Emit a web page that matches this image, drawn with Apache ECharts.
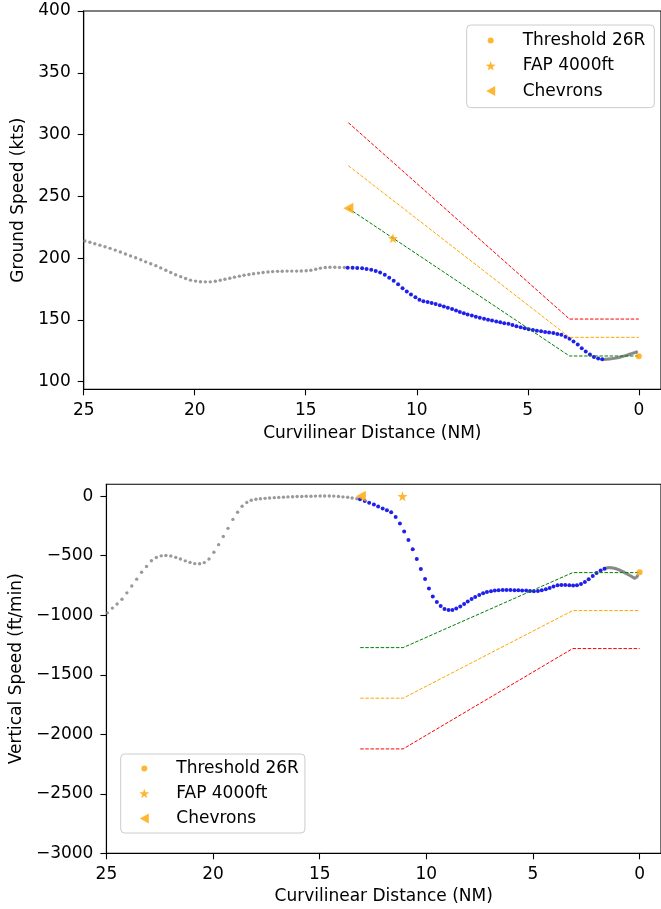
<!DOCTYPE html>
<html><head><meta charset="utf-8">
<script src="https://cdn.jsdelivr.net/npm/echarts@6/dist/echarts.min.js"></script>
<style>html,body{margin:0;padding:0;background:#fff}#c{width:661px;height:909px}</style>
</head><body><div id="c"></div>
<script>
// ---- data ----
// curvilinear distance of each recorded position (NM)
const dist = [
  24.95, 24.72, 24.50, 24.27, 24.04, 23.81, 23.58, 23.35, 23.12, 22.89,
  22.66, 22.43, 22.21, 21.98, 21.75, 21.53, 21.30, 21.08, 20.86, 20.63,
  20.41, 20.19, 19.96, 19.74, 19.52, 19.30, 19.07, 18.85, 18.64, 18.42,
  18.21, 17.99, 17.78, 17.56, 17.35, 17.13, 16.92, 16.70, 16.49, 16.27,
  16.06, 15.84, 15.63, 15.41, 15.20, 14.98, 14.77, 14.55, 14.34, 14.12,
  13.91, 13.69, 13.48, 13.26,
  13.11, 12.89, 12.68, 12.46, 12.26, 12.05, 11.85, 11.65, 11.44, 11.24,
  11.04, 10.84, 10.64, 10.45, 10.26, 10.06, 9.88, 9.70, 9.51, 9.33,
  9.15, 8.96, 8.78, 8.60, 8.41, 8.23, 8.06, 7.88, 7.71, 7.52,
  7.34, 7.16, 6.97, 6.79, 6.61, 6.42, 6.24, 6.06, 5.87, 5.69,
  5.51, 5.32, 5.14, 4.96, 4.77, 4.59, 4.40, 4.22, 4.04, 3.85,
  3.67, 3.49, 3.30, 3.12, 2.94, 2.75, 2.57, 2.39, 2.20, 2.02,
  1.83, 1.65,
  1.58, 1.50, 1.43, 1.35, 1.28, 1.20, 1.13, 1.05, 0.98, 0.90,
  0.83, 0.75, 0.68, 0.60, 0.53, 0.45, 0.38, 0.30, 0.23, 0.15, 0.10
];
// ground speed (kts)
const groundSpeed = [
  213.9, 212.8, 211.7, 210.5, 209.2, 207.9, 206.5, 205.0, 203.4, 201.8,
  200.3, 198.7, 197.0, 195.5, 193.9, 192.1, 190.2, 188.4, 186.6, 185.0,
  183.5, 182.2, 181.4, 180.9, 180.8, 180.8, 181.3, 182.1, 182.9, 183.7,
  184.6, 185.4, 186.1, 186.8, 187.4, 187.9, 188.4, 188.8, 189.1, 189.3,
  189.4, 189.5, 189.5, 189.5, 189.6, 189.8, 190.2, 191.0, 191.9, 192.4,
  192.6, 192.6, 192.5, 192.4,
  192.3, 192.2, 192.0, 191.8, 191.3, 190.5, 189.6, 188.3, 186.5, 184.2,
  181.7, 178.8, 175.6, 173.0, 170.6, 168.4, 166.3, 165.2, 164.4, 163.7,
  162.8, 161.8, 160.8, 159.8, 158.8, 157.6, 156.5, 155.4, 154.4, 153.5,
  152.6, 151.7, 150.9, 150.2, 149.5, 148.8, 148.1, 147.4, 146.8, 145.9,
  144.9, 144.0, 143.2, 142.4, 141.8, 141.3, 140.8, 140.3, 139.9, 139.4,
  138.7, 137.9, 136.4, 134.8, 132.6, 130.1, 127.0, 124.5, 122.0, 120.0,
  118.8, 118.2,
  118.1, 118.2, 118.3, 118.4, 118.5, 118.7, 118.9, 119.1, 119.3, 119.6,
  119.9, 120.3, 120.7, 121.1, 121.5, 122.0, 122.4, 122.9, 123.3, 123.7, 124.0
];
// vertical speed (ft/min)
const verticalSpeed = [
  -980, -940, -905, -866, -812, -754, -697, -639, -590, -542,
  -515, -501, -498, -502, -514, -528, -543, -556, -566, -568,
  -558, -528, -471, -407, -339, -270, -195, -135, -85, -52,
  -34, -26, -21, -18, -15, -12, -10, -8, -6, -5,
  -3, -2, -1, 0, 1, 2, 2, 2, 1, -2,
  -6, -9, -15, -22,
  -25, -40, -56, -70, -87, -104, -118, -135, -174, -230,
  -297, -367, -446, -527, -611, -695, -776, -843, -888, -922,
  -947, -955, -955, -944, -927, -905, -885, -863, -846, -829,
  -815, -804, -798, -793, -790, -787, -787, -787, -790, -790,
  -793, -793, -796, -798, -796, -790, -782, -771, -759, -748,
  -745, -745, -748, -750, -748, -738, -720, -698, -670, -645,
  -624, -610,
  -604, -601, -600, -601, -602, -605, -608, -613, -618, -624,
  -630, -637, -645, -652, -659, -667, -675, -683, -689, -680, -668
];
// index range of the highlighted (blue) approach segment
const blueStart = 54;
const blueEnd = 116;

// speed envelope (dashed lines, top chart)
const gsLimitDist = [13.08, 3.12, 0];
const gsGreen  = [240.3, 120.8, 120.8];
const gsOrange = [274.8, 135.9, 135.9];
const gsRed    = [309.6, 150.7, 150.7];
// vertical speed envelope (dashed lines, bottom chart)
const vsLimitDist = [13.1, 11.09, 3.14, 0];
const vsGreen  = [-1272, -1272, -642, -642];
const vsOrange = [-1697, -1697, -961, -961];
const vsRed    = [-2123, -2123, -1280, -1280];

// reference points [distance, value]
const thresholdGS = [[0, 120.6]];
const fapGS = [[11.07, 216]];
const chevronsGS = [[13.08, 240.3]];
const thresholdVS = [[0, -639]];
const fapVS = [[11.12, 0]];
const chevronsVS = [[13.07, 0]];

// tick labels
const xTicks = [0, 5, 10, 15, 20, 25];
const gsTicks = [100, 150, 200, 250, 300, 350, 400];
const vsTicks = [-3000, -2500, -2000, -1500, -1000, -500, 0];
const legendNames = ['Threshold 26R', 'FAP 4000ft', 'Chevrons'];

// ---- chart ----
const FONT = 'DejaVu Sans';
const pairs = (xs, ys) => xs.map((x, i) => [x, ys[i]]);
const circleIcon = 'path://M0,0M10,10M2,5A3,3,0,1,1,8,5A3,3,0,1,1,2,5Z';
const starIcon = 'path://M5,0L6.18,3.38L9.76,3.45L6.9,5.62L7.94,9.05L5,7L2.06,9.05L3.1,5.62L0.24,3.45L3.82,3.38Z';
const triIcon = 'path://M0,5L9,0L9,10Z';
const fmt = v => String(v).replace('-', '\u2212');

function xAxisCfg(gi) {
  return {
    type: 'value', gridIndex: gi, inverse: true, min: -1, max: 25,
    name: 'Curvilinear Distance (NM)', nameLocation: 'middle', nameGap: gi === 0 ? 36 : 35,
    nameTextStyle: {fontFamily: FONT, fontSize: 17, color: '#000'},
    axisLine: {show: true, onZero: false, lineStyle: {color: '#000', width: 1.1}},
    axisTick: {show: true, length: 6, customValues: xTicks, lineStyle: {color: '#000', width: 1.1}},
    axisLabel: {customValues: xTicks, margin: 13, fontFamily: FONT, fontSize: 17, color: '#000', formatter: fmt},
    splitLine: {show: false}
  };
}
function yAxisCfg(gi, min, max, ticks, name, gap) {
  return {
    type: 'value', gridIndex: gi, min, max,
    name, nameLocation: 'middle', nameGap: gap,
    nameTextStyle: {fontFamily: FONT, fontSize: 17, color: '#000'},
    axisLine: {show: true, onZero: false, lineStyle: {color: '#000', width: 1.1}},
    axisTick: {show: true, length: 6, customValues: ticks, lineStyle: {color: '#000', width: 1.1}},
    axisLabel: {customValues: ticks, margin: 13, fontFamily: FONT, fontSize: 17, color: '#000', formatter: fmt},
    splitLine: {show: false}
  };
}
function legendCfg(left, top, pad, gap) {
  return {
    orient: 'vertical', left, top, padding: pad, itemGap: gap,
    itemWidth: 10, itemHeight: 10, selectedMode: false,
    backgroundColor: 'rgba(255,255,255,0.8)', borderColor: '#cccccc', borderWidth: 1, borderRadius: 4,
    textStyle: {fontFamily: FONT, fontSize: 17, color: '#000', lineHeight: 17, padding: [0, 0, 0, 22]},
    data: [
      {name: legendNames[0], icon: circleIcon},
      {name: legendNames[1], icon: starIcon},
      {name: legendNames[2], icon: triIcon}
    ]
  };
}
function dashed(gi, xs, ys, color) {
  return {
    type: 'line', xAxisIndex: gi, yAxisIndex: gi, data: pairs(xs, ys),
    showSymbol: false, symbol: 'none', z: 4, silent: true,
    lineStyle: {color, width: 1, type: [3.5, 1.6]}
  };
}
function trajectory(gi, ys) {
  const all = pairs(dist, ys);
  return [
    {type: 'scatter', xAxisIndex: gi, yAxisIndex: gi, data: all, symbolSize: 3.4, z: 2,
     itemStyle: {color: '#808080'}, silent: true},
    {type: 'scatter', xAxisIndex: gi, yAxisIndex: gi, data: all.slice(blueStart, blueEnd), symbolSize: 4, z: 3,
     itemStyle: {color: '#0000ff'}, silent: true}
  ];
}
function markers(gi, thr, fap, chev) {
  return [
    {name: legendNames[0], type: 'scatter', xAxisIndex: gi, yAxisIndex: gi, data: thr, symbol: 'circle', symbolSize: 6, z: 6, itemStyle: {color: '#ffa500'}},
    {name: legendNames[1], type: 'scatter', xAxisIndex: gi, yAxisIndex: gi, data: fap, symbol: starIcon, symbolSize: 10, z: 6, itemStyle: {color: '#ffa500'}},
    {name: legendNames[2], type: 'scatter', xAxisIndex: gi, yAxisIndex: gi, data: chev, symbol: triIcon, symbolSize: [10, 11], z: 6, itemStyle: {color: '#ffa500'}}
  ];
}

const chart = echarts.init(document.getElementById('c'), null, {renderer: 'canvas'});
chart.setOption({
  animation: false,
  backgroundColor: '#ffffff',
  grid: [
    {left: 83.7, top: 11, width: 583, height: 378.3, show: true, borderColor: '#000', borderWidth: 1.1, backgroundColor: 'transparent'},
    {left: 96.7, top: 484.3, width: 566.8, height: 369, show: true, borderColor: '#000', borderWidth: 1.1, backgroundColor: 'transparent'}
  ],
  xAxis: [xAxisCfg(0), xAxisCfg(1)],
  yAxis: [
    yAxisCfg(0, 93.85, 400, gsTicks, 'Ground Speed (kts)', 52),
    yAxisCfg(1, -3000, 100, vsTicks, 'Vertical Speed (ft/min)', 80)
  ],
  legend: [
    legendCfg(466.7, 25, [7, 9, 8, 19], 8.3),
    legendCfg(120.7, 754, [6, 6, 6, 18.6], 8)
  ],
  series: [
    ...trajectory(0, groundSpeed),
    dashed(0, gsLimitDist, gsRed, '#ff0000'),
    dashed(0, gsLimitDist, gsOrange, '#ffa500'),
    dashed(0, gsLimitDist, gsGreen, '#008000'),
    ...markers(0, thresholdGS, fapGS, chevronsGS),
    ...trajectory(1, verticalSpeed),
    dashed(1, vsLimitDist, vsRed, '#ff0000'),
    dashed(1, vsLimitDist, vsOrange, '#ffa500'),
    dashed(1, vsLimitDist, vsGreen, '#008000'),
    ...markers(1, thresholdVS, fapVS, chevronsVS)
  ]
});
</script></body></html>
